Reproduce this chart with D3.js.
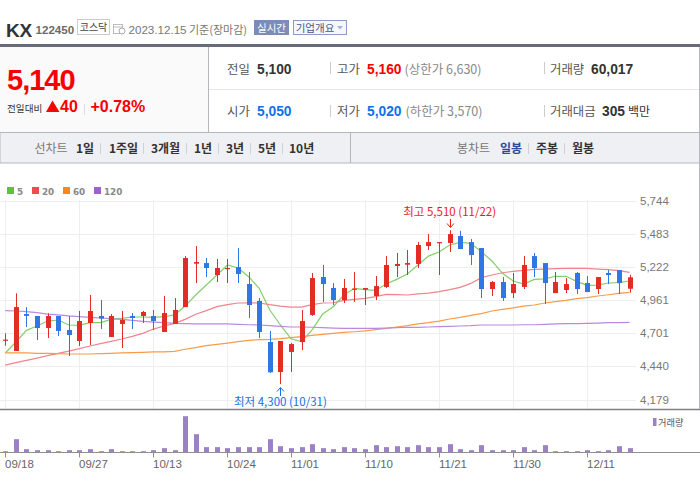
<!DOCTYPE html>
<html><head><meta charset="utf-8">
<script src="https://cdn.jsdelivr.net/npm/d3@7"></script>
<style>html,body{margin:0;padding:0;background:#fff;overflow:hidden}svg{display:block}text{font-family:"Liberation Sans","Noto Sans CJK KR",sans-serif}</style>
</head><body><svg id="c" width="700" height="490"></svg>
<script>
const dates=["09/18","09/19","09/20","09/21","09/22","09/25","09/26","09/27","10/04","10/05","10/06","10/10","10/11","10/12","10/13","10/16","10/17","10/18","10/19","10/20","10/23","10/24","10/25","10/26","10/27","10/30","10/31","11/01","11/02","11/03","11/06","11/07","11/08","11/09","11/10","11/13","11/14","11/15","11/16","11/17","11/20","11/21","11/22","11/23","11/24","11/27","11/28","11/29","11/30","12/01","12/04","12/05","12/06","12/07","12/08","12/11","12/12","12/13","12/14","12/15"];
const open=[4645,4560,4851,4836,4741,4836,4726,4639,4781,4836,4671,4773,4836,4836,4836,4710,4773,4906,5247,5252,5158,5205,5221,5087,4954,4631,4395,4553,4631,4844,5142,5056,4961,5043,5043,4993,5064,5229,5239,5245,5386,5412,5410,5465,5417,5370,5048,5103,5016,5064,5307,5252,5016,5040,5174,5095,5048,5174,5197,5050];
const close=[4650,4906,4836,4741,4836,4718,4686,4796,4875,4815,4836,4804,4820,4867,4796,4859,4883,5292,5260,5213,5213,5213,5166,4922,4710,4393,4639,4615,4796,5134,5087,4961,5056,5051,5056,5071,5237,5245,5252,5394,5417,5417,5480,5362,5315,5048,5103,4977,5087,5237,5213,5095,5103,5087,5048,5024,5142,5158,5095,5140];
const high=[4699,5014,4906,4836,4857,4836,4836,4875,5001,4961,4851,4875,4859,4875,4883,4993,4977,5307,5386,5292,5284,5284,5370,5182,4977,4718,4639,4623,4883,5174,5237,5095,5127,5182,5056,5150,5307,5331,5355,5417,5480,5417,5510,5505,5441,5370,5111,5142,5174,5307,5331,5252,5182,5134,5182,5150,5142,5197,5197,5160];
const low=[4602,4560,4749,4647,4663,4678,4521,4600,4608,4733,4671,4584,4733,4781,4726,4710,4773,4906,5095,5142,5103,5095,5095,4820,4663,4388,4300,4395,4568,4836,4946,4922,4938,4946,4922,4961,5056,5142,5158,5213,5355,5158,5339,5362,5237,4977,4993,4954,4977,5048,5142,4930,5016,5016,5009,5024,5009,5087,5009,5020];
const ma5=[4545,4631,4723,4757,4796,4804,4765,4762,4783,4783,4809,4817,4828,4828,4825,4830,4844,4914,5001,5079,5158,5237,5213,5145,5053,4883,4765,4657,4634,4726,4851,4909,5001,5053,5043,5037,5087,5124,5166,5237,5307,5339,5394,5415,5407,5341,5268,5171,5111,5087,5124,5127,5148,5148,5108,5077,5079,5095,5098,5111];
const ma20=[4450,4469,4487,4505,4524,4542,4560,4579,4600,4618,4636,4655,4676,4699,4733,4757,4778,4809,4849,4878,4909,4925,4938,4940,4938,4925,4914,4906,4906,4925,4938,4940,4959,4967,4975,4988,5006,5003,5001,5009,5016,5027,5043,5061,5092,5137,5158,5176,5187,5195,5203,5205,5208,5210,5210,5210,5205,5200,5192,5179];
const ma60=[4545,4545,4545,4542,4542,4540,4537,4537,4537,4540,4542,4545,4547,4550,4553,4553,4558,4574,4587,4602,4613,4623,4634,4644,4650,4652,4657,4665,4673,4684,4691,4699,4707,4712,4718,4728,4739,4749,4760,4773,4783,4796,4812,4825,4841,4854,4875,4888,4899,4914,4922,4938,4948,4959,4972,4980,4993,5003,5014,5022];
const ma120=[4878,4875,4870,4862,4851,4844,4836,4830,4825,4820,4815,4809,4801,4794,4788,4783,4778,4775,4773,4773,4773,4773,4770,4767,4765,4760,4754,4749,4749,4747,4744,4741,4739,4739,4739,4739,4741,4744,4747,4747,4749,4752,4754,4757,4760,4765,4765,4765,4765,4767,4767,4770,4773,4775,4775,4778,4780,4783,4783,4786];
const volume=[18000,184000,46000,32000,32000,18000,32000,32000,46000,18000,46000,18000,18000,18000,32000,60000,32000,501000,253000,74000,74000,60000,74000,74000,74000,184000,87000,60000,74000,115000,60000,46000,74000,60000,46000,101000,74000,87000,74000,101000,74000,74000,115000,46000,32000,101000,32000,32000,32000,74000,32000,101000,18000,18000,18000,32000,18000,32000,87000,60017];
const priceTicks=[5744,5483,5222,4961,4701,4440,4179];
const dateTicks=["09/18","09/27","10/13","10/24","11/01","11/10","11/21","11/30","12/11"];
const maSeries=[{name:"5",values:ma5,legend:"#5bc43f",line:"#84cf6c"},{name:"20",values:ma20,legend:"#f04a4f",line:"#f0858b"},{name:"60",values:ma60,legend:"#f7881f",line:"#f79c48"},{name:"120",values:ma120,legend:"#9f5fd0",line:"#b98ade"}];

const svg=d3.select("#c");
const KR='"Noto Sans CJK KR","Liberation Sans",sans-serif';
const NUM='"Liberation Sans","Noto Sans CJK KR",sans-serif';
function T(x,y,s,o={}){const t=svg.append("text").attr("x",x).attr("y",y).text(s)
 .attr("font-size",o.size||12).attr("fill",o.fill||"#333").attr("font-weight",o.bold?700:400)
 .style("font-family",o.font||KR);if(o.anchor)t.attr("text-anchor",o.anchor);if(o.ls)t.attr("letter-spacing",o.ls);return t;}
function R(x,y,w,h,f,s){return svg.append("rect").attr("x",x).attr("y",y).attr("width",w).attr("height",h).attr("fill",f||"none").attr("stroke",s||"none");}
function L(x1,y1,x2,y2,c,w){return svg.append("line").attr("x1",x1).attr("y1",y1).attr("x2",x2).attr("y2",y2).attr("stroke",c).attr("stroke-width",w||1);}

/* header */
T(6,37,"KX",{size:19,bold:1,font:NUM,fill:"#333",ls:-.3});
T(35.5,34,"122450",{size:11.6,bold:1,font:NUM,fill:"#6b6b6b"});
R(77.5,19.5,32,15,"#fff","#ccc");
T(93.5,31,"코스닥",{size:10,anchor:"middle",fill:"#444"});
R(113.5,24.5,9,9,"#fff","#bbb");L(113,27,123,27,"#bbb");svg.append("circle").attr("cx",122).attr("cy",31).attr("r",3).attr("fill","#fff").attr("stroke","#aaa");
T(128.5,34,"2023.12.15",{size:11.6,font:NUM,fill:"#777"});
T(189,33.5,"기준(장마감)",{size:11,fill:"#777"});
R(254.5,20.5,34,14,"#7b8cb9","#7b8cb9");
T(271.5,32,"실시간",{size:10.5,anchor:"middle",fill:"#fff"});
R(293.5,20.5,53,14,"#f6f7fc","#8c9bc6");
T(315,32,"기업개요",{size:10.5,anchor:"middle",fill:"#46578a"});
svg.append("path").attr("d","M337 26h6l-3 3.5z").attr("fill","#a8b2cf");

/* summary panel */
R(0,47,208,85,"#fafafa");
R(0,44,700,3,"#666b77");
L(208.5,47,208.5,132,"#b5b7bd");
L(209,89.5,699,89.5,"#e6e6e6");
L(699.5,47,699.5,163,"#b5b7bd");
T(7,90,"5,140",{size:29,bold:1,font:NUM,fill:"#f80000",ls:-1});
T(7,111.5,"전일대비",{size:9.6,fill:"#333"});
svg.append("path").attr("d","M52.5 100.5L59.5 112H46z").attr("fill","#f00808");
T(60,112,"40",{size:16,bold:1,font:NUM,fill:"#f80000"});
L(84.5,104,84.5,115,"#ddd");
T(90.5,112,"+0.78%",{size:16,bold:1,font:NUM,fill:"#f80000"});

const lab=(x,y,s)=>T(x,y,s,{size:12.4,fill:"#555"});
const val=(x,y,s,c)=>T(x,y,s,{size:13.8,bold:1,font:NUM,fill:c||"#333"});
const BLUE="#1270e8",RED="#f80000";
lab(227,73.5,"전일");val(257,73.5,"5,100");L(330.5,62,330.5,74,"#ccc");
lab(337,73.5,"고가");val(367,73.5,"5,160",RED);T(404.5,73.5,"(상한가 6,630)",{size:12.5,fill:"#888"});L(544.5,62,544.5,74,"#ccc");
lab(550,73.5,"거래량");val(591,73.5,"60,017");
lab(227,116,"시가");val(257,116,"5,050",BLUE);L(330.5,105,330.5,117,"#ccc");
lab(337,116,"저가");val(367,116,"5,020",BLUE);T(405.5,116,"(하한가 3,570)",{size:12.5,fill:"#888"});L(544.5,105,544.5,117,"#ccc");
lab(550,116,"거래대금");val(602,116,"305");T(628,116,"백만",{size:12,fill:"#333"});

/* tabs */
R(0,132.5,699.5,30.5,"#eff0f4","#b5b7bd");
L(350.5,132,350.5,163,"#b5b7bd");
const tab=(x,s,c)=>T(x,153,s,{size:12,fill:c||"#333",bold:c!=="#777"});
tab(34.5,"선차트","#777");
[[76,"1일"],[109,"1주일"],[151,"3개월"],[194,"1년"],[226,"3년"],[258,"5년"],[289,"10년"]].forEach(d=>tab(d[0],d[1]));
[100.5,143.5,186.5,218.5,250.5,282.5,528.5,564.5].forEach(x=>L(x,143,x,154,"#d0d1d6"));
tab(457,"봉차트","#777");tab(500,"일봉","#2a4a9a");tab(536,"주봉");tab(572,"월봉");

/* legend */
const lx=[7,32,63,94];
maSeries.forEach((m,i)=>{R(lx[i],187,7,7,m.legend);T(lx[i]+10,194.5,m.name,{size:8.8,bold:1,font:'"DejaVu Sans",sans-serif',fill:"#888"});});

/* scales */
const x=d3.scalePoint().domain(dates).range([5.3,629.5]);
const y=d3.scaleLinear().domain([4179,5744]).range([399.5,200.5]);
const yV=d3.scaleLinear().domain([0,501000]).range([452.5,416.2]);
const px=d=>Math.round(x(d))+.5;

/* grid */
const g=svg.append("g");
priceTicks.forEach(p=>{const yy=Math.round(y(p))+.5;g.append("line").attr("x1",0).attr("x2",636).attr("y1",yy).attr("y2",yy).attr("stroke","#eeeeee");});
dateTicks.forEach(d=>g.append("line").attr("x1",px(d)).attr("x2",px(d)).attr("y1",200).attr("y2",409).attr("stroke","#eeeeee"));

/* price axis */
const ay=svg.append("g").attr("transform","translate(636,0)").call(d3.axisRight(y).tickValues(priceTicks).tickSize(0).tickPadding(4).tickFormat(d3.format(",")));
ay.select(".domain").remove();
ay.selectAll("text").attr("font-size",11.5).attr("fill","#777").style("font-family",NUM);

/* moving averages */
maSeries.forEach(m=>{
 const ln=d3.line().x((d,i)=>x(dates[i])).y(d=>y(d));
 svg.append("path").datum(m.values).attr("d",ln).attr("fill","none").attr("stroke",m.line).attr("stroke-width",1.2);
});

/* candles */
const cR="#e22c26",cB="#2f78e4";
const cg=svg.append("g").selectAll("g").data(dates).join("g");
cg.append("line").attr("x1",d=>px(d)).attr("x2",d=>px(d))
 .attr("y1",(d,i)=>y(high[i])).attr("y2",(d,i)=>y(low[i])).attr("stroke",(d,i)=>close[i]>=open[i]?cR:cB);
cg.append("rect").attr("x",d=>px(d)-2.5).attr("width",5)
 .attr("y",(d,i)=>y(Math.max(open[i],close[i])))
 .attr("height",(d,i)=>Math.max(1.2,Math.abs(y(open[i])-y(close[i]))))
 .attr("fill",(d,i)=>close[i]>=open[i]?cR:cB);

/* annotations */
const hiI=high.indexOf(d3.max(high)),loI=low.indexOf(d3.min(low));
T(x(dates[hiI]),216,"최고 5,510 (11/22)",{size:11.5,anchor:"middle",fill:"#f01818"});
const hx=px(dates[hiI]);L(hx,219,hx,227,"#f01818");svg.append("path").attr("d",`M${hx-3.5} 223.5L${hx} 227.5L${hx+3.5} 223.5`).attr("fill","none").attr("stroke","#f01818");
T(x(dates[loI]),406,"최저 4,300 (10/31)",{size:11.5,anchor:"middle",fill:"#1270e8"});
const bx=px(dates[loI]);L(bx,388,bx,396,"#1270e8");svg.append("path").attr("d",`M${bx-3.5} 391.5L${bx} 387.5L${bx+3.5} 391.5`).attr("fill","none").attr("stroke","#1270e8");

/* volume */
svg.append("g").selectAll("rect").data(dates).join("rect")
 .attr("x",d=>px(d)-2.5).attr("width",5).attr("y",(d,i)=>yV(volume[i])).attr("height",(d,i)=>yV(0)-yV(volume[i])).attr("fill","#9a82c4");
L(0,409.5,700,409.5,"#808080",1.4);
L(699.5,163,699.5,409,"#b5b7bd");
L(0,452.5,700,452.5,"#909090");
const ax=svg.append("g").attr("transform","translate(0,452.5)").call(d3.axisBottom(x).tickValues(dateTicks).tickSize(5).tickPadding(2));
ax.select(".domain").remove();
ax.selectAll("line").attr("stroke","#909090").attr("x1",0).attr("x2",0).attr("transform",d=>`translate(${px(d)},0)`);
ax.selectAll("g.tick").attr("transform","translate(0,0)");
ax.selectAll("text").attr("x",d=>px(d)-.5).attr("text-anchor","start").attr("font-size",11.5).attr("fill","#666").style("font-family",NUM);
R(653,418,3.5,8,"#9a82c4");
T(658,426,"거래량",{size:9.2,fill:"#555"});
</script></body></html>
